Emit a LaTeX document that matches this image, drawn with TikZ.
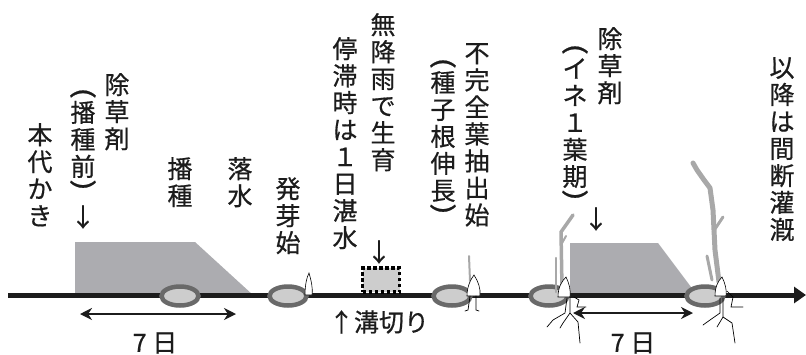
\documentclass[tikz,border=0pt]{standalone}
\usepackage{fontspec}
\usepackage{graphicx}
\newfontfamily\jp{Noto Sans CJK JP}[FakeBold=0.6]
\usetikzlibrary{arrows.meta,shapes.geometric}
\definecolor{flood}{RGB}{172,172,176}
\definecolor{ringcol}{RGB}{105,105,105}
\definecolor{ringfill}{RGB}{205,205,205}
\definecolor{leafcol}{RGB}{168,168,168}
\definecolor{ink}{RGB}{28,28,28}
% parentheses turned for vertical setting
\newcommand{\vopen}{\rotatebox[origin=c]{-90}{\scalebox{1.4}[1]{(}}}
\newcommand{\vclose}{\rotatebox[origin=c]{-90}{\scalebox{1.4}[1]{)}}}
\begin{document}
\begin{tikzpicture}[x=1pt,y=-1pt,
  vtext/.style={font=\jp\fontsize{25}{27}\selectfont, align=center, inner sep=0pt, anchor=north, text=ink},
  htext/.style={font=\jp\fontsize{25}{27}\selectfont, inner sep=0pt, text=ink},
  water/.style={fill=flood, draw=none},
  ring/.style={ellipse, draw=ringcol, fill=ringfill, line width=4.5pt, minimum width=37pt, minimum height=19pt, inner sep=0pt},
  timeline/.style={draw=ink, line width=5pt, -{Triangle[length=12pt,width=16pt]}},
  span/.style={draw=ink, line width=2.5pt, {Stealth[length=12pt,width=12pt]}-{Stealth[length=12pt,width=12pt]}},
  seed/.style={fill=white, draw=black, line width=0.6pt},
  leaf/.style={draw=leafcol, line width=3pt, line cap=round, line join=round},
  root/.style={draw=black, line width=0.7pt, line cap=round},
  pause/.style={fill=ringfill, draw=black, line width=3.5pt, dash pattern=on 3.5pt off 2.5pt}
]
\useasboundingbox (0,0) rectangle (806,354);

% flooded periods
\fill[water] (75,295) -- (75,242) -- (195,242) -- (253,295) -- cycle;
\fill[water] (570,295) -- (570,243) -- (658,243) -- (697,295) -- cycle;

% time axis
\coordinate (t0) at (8,295);
\coordinate (t1) at (806,295);
\draw[timeline] (t0) -- (t1);

% one-day flooding during a stall
\node[pause, minimum width=37pt, minimum height=24pt, inner sep=0pt] (stall) at (381,280) {};

% growth stages on the axis
\node[ring] (sow) at (180,296) {};
\node[ring] (germ) at (288,296) {};
\node[ring] (root1) at (452,296) {};
\node[ring] (leaf1) at (549,296) {};
\node[ring] (leaf2) at (705,296) {};

% germinating seed
\draw[seed] (305,295) .. controls (305,284) and (307,277) .. (309,273) .. controls (311,280) and (313,287) .. (312,295) -- cycle;

% seed with seminal root
\draw[leaf, line width=2pt] (469,256) -- (470,281);
\draw[seed] (467,296) .. controls (467,286) and (471,279) .. (474,275) .. controls (478,281) and (481,289) .. (480,296) -- cycle;
\draw[root] (470,296) -- (468,310) -- (465,311);
\draw[root] (476,296) -- (476,310) -- (479,311);

% seedling at the first leaf
\draw[leaf, line width=2.5pt] (556,292) -- (556,258);
\draw[leaf, line width=3.5pt] (562,288) -- (561,232) -- (573,215);
\draw[leaf, line width=2pt] (561,245) -- (566,236);
\draw[seed] (558,297) .. controls (558,287) and (562,281) .. (566,277) .. controls (569,283) and (571,290) .. (570,297) -- cycle;
\draw[root] (567,298) -- (565,313) -- (553,320) -- (547,327);
\draw[root] (570,298) -- (570,313) -- (563,323) -- (560,328);
\draw[root] (570,313) -- (578,322) -- (580,343);
\draw[root] (574,297) -- (579,300) -- (577,307) -- (586,307);

% older seedling
\draw[leaf, line width=5pt] (693,163) -- (697,170) -- (704,180) -- (710,188) -- (713,210) -- (715,250) -- (719,282);
\draw[leaf, line width=3pt] (713,232) -- (723,217);
\draw[leaf, line width=3pt] (707,256) -- (712,280);
\draw[seed] (715,296) .. controls (715,287) and (718,281) .. (722,277) .. controls (725,283) and (727,290) .. (726,296) -- cycle;
\draw[root] (720,298) -- (720,313) -- (710,320) -- (703,325);
\draw[root] (723,298) -- (723,317) -- (717,327);
\draw[root] (723,317) -- (732,323) -- (735,343);
\draw[root] (727,291) -- (733,297) -- (731,307) -- (743,307);

% seven-day spans
\coordinate (s1a) at (80,314);
\coordinate (s1b) at (236,314);
\draw[span] (s1a) -- (s1b);
\coordinate (s2a) at (573,313);
\coordinate (s2b) at (693,313);
\draw[span] (s2a) -- (s2b);
\node[htext] (d1) at (155,343) {7 日};
\node[htext] (d2) at (633,343) {7 日};

% labels
\node[vtext] (puddle) at (40,123) {本\\代\\か\\き};
\node[vtext] (herb1) at (117,73) {除\\草\\剤};
\node[vtext] (herb1b) at (83,87) {\vopen\\[-6pt]播\\種\\前\\[-10pt]\vclose};
\node[htext] (herb1arr) at (83,217) {↓};
\node[vtext] (sowlab) at (180,157) {播\\種};
\node[vtext] (drain) at (240,157) {落\\水};
\node[vtext] (germlab) at (288,177) {発\\芽\\始};
\node[vtext] (stalllab) at (345,37) {停\\滞\\時\\は\\１\\日\\湛\\水};
\node[vtext] (rainlab) at (383,13) {無\\降\\雨\\で\\生\\育};
\node[htext] (stallarr) at (379,252) {↓};
\node[htext] (furrow) at (379,322) {↑溝切り};
\node[vtext] (rootlab) at (443,57) {\vopen\\[-6pt]種\\子\\根\\伸\\長\\[-10pt]\vclose};
\node[vtext] (leaflab) at (477,43) {不\\完\\全\\葉\\抽\\出\\始};
\node[vtext] (herb2) at (610,27) {除\\草\\剤};
\node[vtext] (herb2b) at (575,43) {\vopen\\[-6pt]イ\\ネ\\１\\葉\\期\\[-10pt]\vclose};
\node[htext] (herb2arr) at (596,219) {↓};
\node[vtext] (afterlab) at (782,57) {以\\降\\は\\間\\断\\灌\\漑};
\end{tikzpicture}
\end{document}
